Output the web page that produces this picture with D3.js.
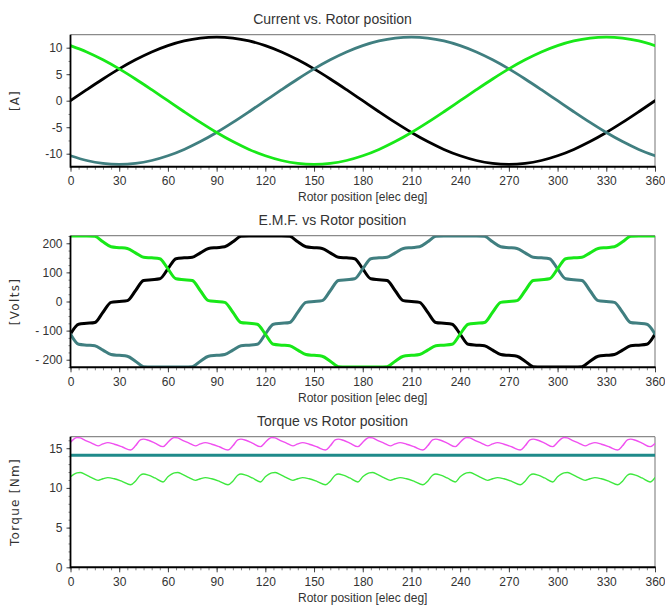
<!DOCTYPE html>
<html><head><meta charset="utf-8">
<script src="https://cdn.jsdelivr.net/npm/d3@7"></script>
<style>body{margin:0;background:#fff} svg{display:block}</style>
</head><body><svg id="c" width="665" height="605"></svg>
<script>
// ---------------- DATA ----------------
const xTicks = [0,30,60,90,120,150,180,210,240,270,300,330,360];
const xMinorTicks = [0,5,10,15,20,25,30,35,40,45,50,55,60,65,70,75,80,85,90,95,100,105,110,115,120,125,130,135,140,145,150,155,160,165,170,175,180,185,190,195,200,205,210,215,220,225,230,235,240,245,250,255,260,265,270,275,280,285,290,295,300,305,310,315,320,325,330,335,340,345,350,355,360];

// Current vs rotor position (10 deg steps)
const currentAngles = [0,10,20,30,40,50,60,70,80,90,100,110,120,130,140,150,160,170,180,190,200,210,220,230,240,250,260,270,280,290,300,310,320,330,340,350,360];
const currentA = [0,2.08,4.10,6.00,7.71,9.19,10.39,11.28,11.82,12.00,11.82,11.28,10.39,9.19,7.71,6.00,4.10,2.08,0,-2.08,-4.10,-6.00,-7.71,-9.19,-10.39,-11.28,-11.82,-12.00,-11.82,-11.28,-10.39,-9.19,-7.71,-6.00,-4.10,-2.08,0];
const currentB = [-10.39,-11.28,-11.82,-12.00,-11.82,-11.28,-10.39,-9.19,-7.71,-6.00,-4.10,-2.08,0,2.08,4.10,6.00,7.71,9.19,10.39,11.28,11.82,12.00,11.82,11.28,10.39,9.19,7.71,6.00,4.10,2.08,0,-2.08,-4.10,-6.00,-7.71,-9.19,-10.39];
const currentC = [10.39,9.19,7.71,6.00,4.10,2.08,0,-2.08,-4.10,-6.00,-7.71,-9.19,-10.39,-11.28,-11.82,-12.00,-11.82,-11.28,-10.39,-9.19,-7.71,-6.00,-4.10,-2.08,0,2.08,4.10,6.00,7.71,9.19,10.39,11.28,11.82,12.00,11.82,11.28,10.39];
const currentTicks = [-10,-5,0,5,10];

// E.M.F. vs rotor position (5 deg steps)
const emfAngles = [0,5,10,15,20,25,30,35,40,45,50,55,60,65,70,75,80,85,90,95,100,105,110,115,120,125,130,135,140,145,150,155,160,165,170,175,180,185,190,195,200,205,210,215,220,225,230,235,240,245,250,255,260,265,270,275,280,285,290,295,300,305,310,315,320,325,330,335,340,345,350,355,360];
const emfA = [-112,-78,-75,-72,-37,-3,0,3,37,72,75,78,112,147,150,152,167,182,185,188,205,224,225,225,225,225,225,224,205,188,185,182,167,152,150,147,112,78,75,72,37,3,0,-3,-37,-72,-75,-78,-112,-147,-150,-152,-167,-182,-185,-188,-205,-224,-225,-225,-225,-225,-225,-224,-205,-188,-185,-182,-167,-152,-150,-147,-112];
const emfB = [-112,-147,-150,-152,-167,-182,-185,-188,-205,-224,-225,-225,-225,-225,-225,-224,-205,-188,-185,-182,-167,-152,-150,-147,-112,-78,-75,-72,-37,-3,0,3,37,72,75,78,112,147,150,152,167,182,185,188,205,224,225,225,225,225,225,224,205,188,185,182,167,152,150,147,112,78,75,72,37,3,0,-3,-37,-72,-75,-78,-112];
const emfC = [225,225,225,224,205,188,185,182,167,152,150,147,112,78,75,72,37,3,0,-3,-37,-72,-75,-78,-112,-147,-150,-152,-167,-182,-185,-188,-205,-224,-225,-225,-225,-225,-225,-224,-205,-188,-185,-182,-167,-152,-150,-147,-112,-78,-75,-72,-37,-3,0,3,37,72,75,78,112,147,150,152,167,182,185,188,205,224,225,225,225];
const emfTicks = [-200,-100,0,100,200];

// Torque vs rotor position
const torqueAngles = [0,2,4,6,9,13,17,20,23,27,32,37,40,43,45,48,52,57,
  60,62,64,66,69,73,77,80,83,87,92,97,100,103,105,108,112,117,
  120,122,124,126,129,133,137,140,143,147,152,157,160,163,165,168,172,177,
  180,182,184,186,189,193,197,200,203,207,212,217,220,223,225,228,232,237,
  240,242,244,246,249,253,257,260,263,267,272,277,280,283,285,288,292,297,
  300,302,304,306,309,313,317,320,323,327,332,337,340,343,345,348,352,357,360];
const torqueHigh = [15.75,16.15,16.35,16.3,16.0,15.65,15.3,15.55,15.7,15.5,15.15,14.77,15.3,16.05,16.15,16.0,15.65,15.2,
  15.75,16.15,16.35,16.3,16.0,15.65,15.3,15.55,15.7,15.5,15.15,14.77,15.3,16.05,16.15,16.0,15.65,15.2,
  15.75,16.15,16.35,16.3,16.0,15.65,15.3,15.55,15.7,15.5,15.15,14.77,15.3,16.05,16.15,16.0,15.65,15.2,
  15.75,16.15,16.35,16.3,16.0,15.65,15.3,15.55,15.7,15.5,15.15,14.77,15.3,16.05,16.15,16.0,15.65,15.2,
  15.75,16.15,16.35,16.3,16.0,15.65,15.3,15.55,15.7,15.5,15.15,14.77,15.3,16.05,16.15,16.0,15.65,15.2,
  15.75,16.15,16.35,16.3,16.0,15.65,15.3,15.55,15.7,15.5,15.15,14.77,15.3,16.05,16.15,16.0,15.65,15.2,15.6];
const torqueLow = [11.4,11.7,11.9,11.95,11.7,11.3,10.95,11.15,11.3,11.15,10.8,10.4,10.85,11.6,11.75,11.6,11.25,10.75,
  11.4,11.7,11.9,11.95,11.7,11.3,10.95,11.15,11.3,11.15,10.8,10.4,10.85,11.6,11.75,11.6,11.25,10.75,
  11.4,11.7,11.9,11.95,11.7,11.3,10.95,11.15,11.3,11.15,10.8,10.4,10.85,11.6,11.75,11.6,11.25,10.75,
  11.4,11.7,11.9,11.95,11.7,11.3,10.95,11.15,11.3,11.15,10.8,10.4,10.85,11.6,11.75,11.6,11.25,10.75,
  11.4,11.7,11.9,11.95,11.7,11.3,10.95,11.15,11.3,11.15,10.8,10.4,10.85,11.6,11.75,11.6,11.25,10.75,
  11.4,11.7,11.9,11.95,11.7,11.3,10.95,11.15,11.3,11.15,10.8,10.4,10.85,11.6,11.75,11.6,11.25,10.75,11.3];
const torqueMeanAngles = [0,360];
const torqueMean = [14.1,14.1];
const torqueTicks = [0,5,10,15];

// ---------------- DRAW ----------------
const svg = d3.select("#c");
const FONT = "'Liberation Sans', Arial, sans-serif";
const x = d3.scaleLinear().domain([0,360]).range([70.5,655]);

const panels = [
  {title:"Current vs. Rotor position", ylabel:"[A]", top:34.7, bottom:166.7, domain:[-12.45,12.45], ticks:currentTicks, minor:[-12.5,-10,-7.5,-5,-2.5,0,2.5,5,7.5,10,12.5],
   series:[
     {a:currentAngles, v:currentA, c:"#000000", w:2.8},
     {a:currentAngles, v:currentB, c:"#407f80", w:2.8},
     {a:currentAngles, v:currentC, c:"#18e818", w:2.8}], curve:d3.curveCatmullRom, fmt:d=>String(d), ls:1},
  {title:"E.M.F. vs Rotor position", ylabel:"[Volts]", top:235.7, bottom:367.3, domain:[-226,226], ticks:emfTicks, minor:[-225,-200,-175,-150,-125,-100,-75,-50,-25,0,25,50,75,100,125,150,175,200,225],
   series:[
     {a:emfAngles, v:emfA, c:"#000000", w:3},
     {a:emfAngles, v:emfB, c:"#407f80", w:3},
     {a:emfAngles, v:emfC, c:"#18e818", w:3}], curve:d3.curveMonotoneX, fmt:d=>d<0?"- "+Math.abs(d):String(d), ls:1.3},
  {title:"Torque vs Rotor position", ylabel:"Torque  [Nm]", top:436.7, bottom:567.3, domain:[0,16.45], ticks:torqueTicks, minor:[0,1,2,3,4,5,6,7,8,9,10,11,12,13,14,15,16],
   series:[
     {a:torqueMeanAngles, v:torqueMean, c:"#1f8a8a", w:3},
     {a:torqueAngles, v:torqueHigh, c:"#f050f0", w:1.4},
     {a:torqueAngles, v:torqueLow, c:"#3ee83e", w:1.4}], curve:d3.curveMonotoneX, fmt:d=>String(d), ls:1.3}
];

panels.forEach((p,i)=>{
  const g = svg.append("g");
  const y = d3.scaleLinear().domain(p.domain).range([p.bottom,p.top]);
  const cid = "clip"+i;
  svg.append("clipPath").attr("id",cid).append("rect")
    .attr("x",x(0)).attr("y",p.top).attr("width",x(360)-x(0)).attr("height",p.bottom-p.top);

  // title
  g.append("text").attr("x",332.5).attr("y",p.top-10.3).attr("text-anchor","middle")
    .attr("font-family",FONT).attr("font-size",14).attr("fill","#333").text(p.title);

  // frame (top/right thin grey)
  g.append("line").attr("x1",x(0)).attr("x2",x(360)).attr("y1",p.top).attr("y2",p.top).attr("stroke","#8a8a8a").attr("stroke-width",1.2);
  g.append("line").attr("x1",x(360)).attr("x2",x(360)).attr("y1",p.top).attr("y2",p.bottom).attr("stroke","#8a8a8a").attr("stroke-width",1.2);

  // series
  const lg = g.append("g").attr("clip-path",`url(#${cid})`);
  p.series.forEach(s=>{
    const pts = s.a.map((a,k)=>[a,s.v[k]]);
    lg.append("path").datum(pts)
      .attr("d", d3.line().x(d=>x(d[0])).y(d=>y(d[1])).curve(p.curve))
      .attr("fill","none").attr("stroke",s.c).attr("stroke-width",s.w)
      .attr("stroke-linejoin","round").attr("stroke-linecap","round");
  });

  // x axis minor ticks
  const xa = g.append("g").attr("transform",`translate(0,${p.bottom})`);
  xa.call(d3.axisBottom(x).tickValues(xMinorTicks).tickSize(3).tickFormat(""))
    .call(a=>a.select(".domain").remove())
    .call(a=>a.selectAll("line").attr("stroke","#666").attr("stroke-width",0.8));
  const xb = g.append("g").attr("transform",`translate(0,${p.bottom})`);
  xb.call(d3.axisBottom(x).tickValues(xTicks).tickSize(5).tickPadding(5).tickFormat(d=>String(d)))
    .call(a=>a.select(".domain").remove())
    .call(a=>a.selectAll("line").attr("stroke","#444").attr("stroke-width",1))
    .call(a=>a.selectAll("text").attr("font-family",FONT).attr("font-size",12).attr("fill","#333"));

  // y axis
  const ya = g.append("g").attr("transform",`translate(${x(0)},0)`);
  ya.call(d3.axisLeft(y).tickValues(p.minor.filter(v=>v>=p.domain[0]&&v<=p.domain[1])).tickSize(2).tickFormat(""))
    .call(a=>a.select(".domain").remove())
    .call(a=>a.selectAll("line").attr("stroke","#666").attr("stroke-width",0.8));
  const yb = g.append("g").attr("transform",`translate(${x(0)},0)`);
  yb.call(d3.axisLeft(y).tickValues(p.ticks).tickSize(4).tickPadding(4).tickFormat(p.fmt))
    .call(a=>a.select(".domain").remove())
    .call(a=>a.selectAll("line").attr("stroke","#444").attr("stroke-width",1))
    .call(a=>a.selectAll("text").attr("font-family",FONT).attr("font-size",12).attr("fill","#333"));

  // thick left / bottom axis lines
  g.append("line").attr("x1",x(0)).attr("x2",x(0)).attr("y1",p.top).attr("y2",p.bottom+1).attr("stroke","#000").attr("stroke-width",1.8);
  g.append("line").attr("x1",x(0)).attr("x2",x(360)+0.6).attr("y1",p.bottom).attr("y2",p.bottom).attr("stroke","#000").attr("stroke-width",2);

  // x label
  g.append("text").attr("x",(x(0)+x(360))/2).attr("y",p.bottom+34.3).attr("text-anchor","middle")
    .attr("font-family",FONT).attr("font-size",12).attr("fill","#333").text("Rotor position [elec deg]");

  // y label
  const cy = (p.top+p.bottom)/2;
  g.append("text").attr("transform",`translate(19,${cy}) rotate(-90)`).attr("text-anchor","middle")
    .attr("font-family","'DejaVu Sans', Verdana, sans-serif").attr("font-size",12).attr("letter-spacing",p.ls)
    .attr("fill","#333").text(p.ylabel);
});
</script>
</body></html>
